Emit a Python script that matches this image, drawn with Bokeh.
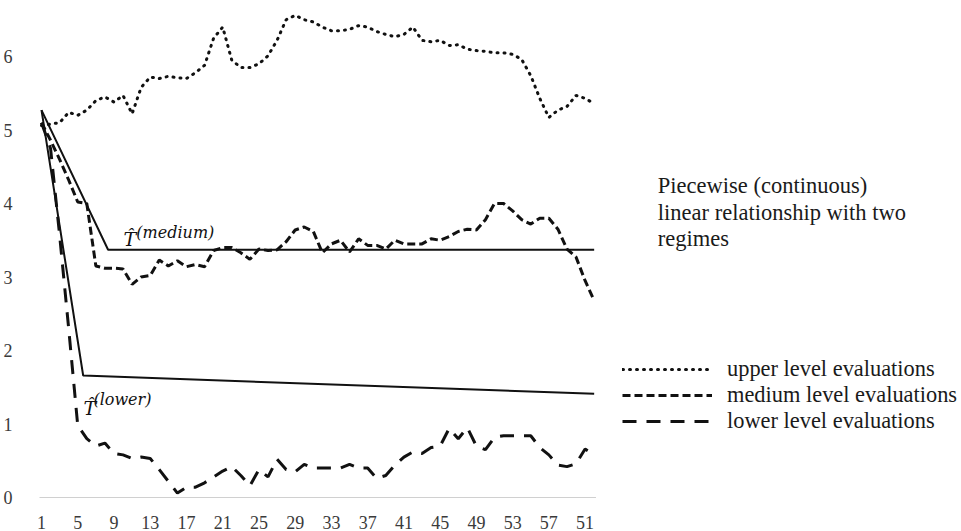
from bokeh.plotting import figure
from bokeh.models import Range1d, FixedTicker, Legend, LegendItem
from bokeh.core.properties import value
from bokeh.embed import file_html
from bokeh.resources import INLINE

# ---------------- data ----------------
periods = list(range(1, 63))

upper = [5.06, 5.08, 5.10, 5.24, 5.20, 5.27, 5.40, 5.45, 5.38, 5.47,
         5.22, 5.58, 5.72, 5.70, 5.73, 5.71, 5.70, 5.78, 5.88, 6.25,
         6.40, 5.95, 5.85, 5.85, 5.90, 6.01, 6.22, 6.50, 6.56, 6.50,
         6.47, 6.40, 6.35, 6.35, 6.37, 6.42, 6.40, 6.34, 6.30, 6.27,
         6.30, 6.40, 6.22, 6.20, 6.22, 6.15, 6.16, 6.10, 6.08, 6.07,
         6.05, 6.05, 6.03, 5.96, 5.74, 5.43, 5.17, 5.27, 5.32, 5.47,
         5.43, 5.36]

medium = [5.10, 4.86, 4.60, 4.32, 4.02, 4.00, 3.15, 3.12, 3.12, 3.11,
          2.90, 3.00, 3.02, 3.23, 3.15, 3.22, 3.14, 3.17, 3.14, 3.36,
          3.40, 3.40, 3.33, 3.24, 3.38, 3.36, 3.37, 3.48, 3.64, 3.68,
          3.62, 3.33, 3.45, 3.50, 3.34, 3.52, 3.43, 3.43, 3.38, 3.50,
          3.45, 3.45, 3.45, 3.52, 3.50, 3.55, 3.62, 3.65, 3.64, 3.78,
          4.00, 4.00, 3.90, 3.78, 3.72, 3.80, 3.80, 3.65, 3.38, 3.27,
          2.95, 2.68]

lower = [5.10, 4.75, 3.57, 2.30, 0.98, 0.80, 0.70, 0.74, 0.60, 0.58,
         0.53, 0.55, 0.53, 0.38, 0.22, 0.06, 0.14, 0.14, 0.20, 0.28,
         0.36, 0.42, 0.30, 0.16, 0.38, 0.28, 0.52, 0.38, 0.35, 0.45,
         0.40, 0.40, 0.40, 0.40, 0.45, 0.40, 0.40, 0.26, 0.30, 0.44,
         0.55, 0.62, 0.60, 0.68, 0.70, 0.94, 0.80, 0.95, 0.70, 0.65,
         0.82, 0.84, 0.84, 0.84, 0.84, 0.68, 0.58, 0.44, 0.42, 0.46,
         0.66, 0.58]

# piecewise (continuous) linear fits with two regimes
medium_fit_x = [1, 8.35, 62]
medium_fit_y = [5.27, 3.37, 3.37]
lower_fit_x = [1, 5.6, 62]
lower_fit_y = [5.27, 1.66, 1.41]

x_ticks = [1, 5, 9, 13, 17, 21, 25, 29, 33, 37, 41, 45, 49, 53, 57, 61]
x_tick_labels = ["1", "5", "9", "13", "17", "21", "25", "29", "33", "37",
                 "41", "45", "49", "53", "57", "51"]
y_ticks = [0, 1, 2, 3, 4, 5, 6]

legend_labels = ["upper level evaluations", "medium level evaluations",
                 "lower level evaluations"]
note_lines = ["Piecewise (continuous)", "linear relationship with two", "regimes"]
fit_names = ["(medium)", "(lower)"]

# ---------------- layout ----------------
W, H = 961, 531
B_LEFT, B_BOTTOM = 36, 32
PX_X = 9.07     # pixels per period
PX_Y = 73.5     # pixels per unit
frame_w = W - B_LEFT
frame_h = H - B_BOTTOM
x_start = 1 - 4 / PX_X
x_end = x_start + frame_w / PX_X
y_start = -2 / PX_Y
y_end = y_start + frame_h / PX_Y

SERIF = "Liberation Serif"
MATH = "DejaVu Serif"

p = figure(width=W, height=H, output_backend="svg", toolbar_location=None,
           x_range=Range1d(x_start, x_end), y_range=Range1d(y_start, y_end),
           min_border_left=B_LEFT, min_border_right=0, min_border_top=0,
           min_border_bottom=B_BOTTOM)
p.outline_line_color = None
p.background_fill_color = "white"
p.border_fill_color = "white"
p.xgrid.visible = False
p.ygrid.visible = False

# axes
xa = p.xaxis[0]
xa.ticker = FixedTicker(ticks=x_ticks)
xa.major_label_overrides = {t: lab for t, lab in zip(x_ticks, x_tick_labels)}
xa.axis_line_color = None
xa.major_tick_line_color = None
xa.minor_tick_line_color = None
xa.major_label_standoff = 10
xa.major_label_text_font = SERIF
xa.major_label_text_font_size = "18px"
xa.major_label_text_color = "#3a3a3a"

ya = p.yaxis[0]
ya.ticker = FixedTicker(ticks=y_ticks)
ya.axis_line_color = None
ya.major_tick_line_color = None
ya.minor_tick_line_color = None
ya.major_label_standoff = 19
ya.major_label_text_font = SERIF
ya.major_label_text_font_size = "18px"
ya.major_label_text_color = "#3a3a3a"

# horizontal baseline at 0 (category axis line)
p.segment(x0=[periods[0] - 0.22], y0=[0], x1=[periods[-1] + 0.2], y1=[0],
          line_color="#d0d0d0", line_width=1.2)

# fitted lines
p.line(medium_fit_x, medium_fit_y, line_color="#111111", line_width=2)
p.line(lower_fit_x, lower_fit_y, line_color="#111111", line_width=2)

# series
r_up = p.line(periods, upper, line_color="#111111", line_width=3,
              line_dash="1 6", line_cap="round")
r_med = p.line(periods, medium, line_color="#111111", line_width=3,
               line_dash="8 4")
r_low = p.line(periods, lower, line_color="#111111", line_width=3,
               line_dash="14 10")

# fit labels: T-hat with superscript
p.text(x=[10.04, 5.63], y=[3.52, 1.22], text=["T\u0302", "T\u0302"],
       text_font=value(MATH), text_font_style="italic",
       text_font_size="19px", text_color="#111111",
       text_baseline="alphabetic", text_align="left")
p.text(x=[11.47, 6.73], y=[3.61, 1.33], text=fit_names,
       text_font=value(MATH), text_font_style="italic",
       text_font_size="16px", text_color="#111111",
       text_baseline="alphabetic", text_align="left")

# note
note_x = 1 + (657 - 40) / PX_X
p.text(x=[note_x] * 3, y=[4.245, 3.882, 3.522], text=note_lines,
       text_font=value(SERIF), text_font_size="22.5px", text_color="#1a1a1a",
       text_baseline="alphabetic", text_align="left")

legend = Legend(items=[LegendItem(label=legend_labels[0], renderers=[r_up]),
                       LegendItem(label=legend_labels[1], renderers=[r_med]),
                       LegendItem(label=legend_labels[2], renderers=[r_low])],
                location=(585, 65), orientation="vertical",
                glyph_width=90, glyph_height=26, label_height=26,
                label_standoff=15, spacing=0, padding=0, margin=0,
                border_line_color=None, background_fill_alpha=0,
                label_text_font=SERIF, label_text_font_size="22.4px",
                label_text_color="#1a1a1a")
p.add_layout(legend)

open("out.html", "w").write(file_html(p, INLINE))
